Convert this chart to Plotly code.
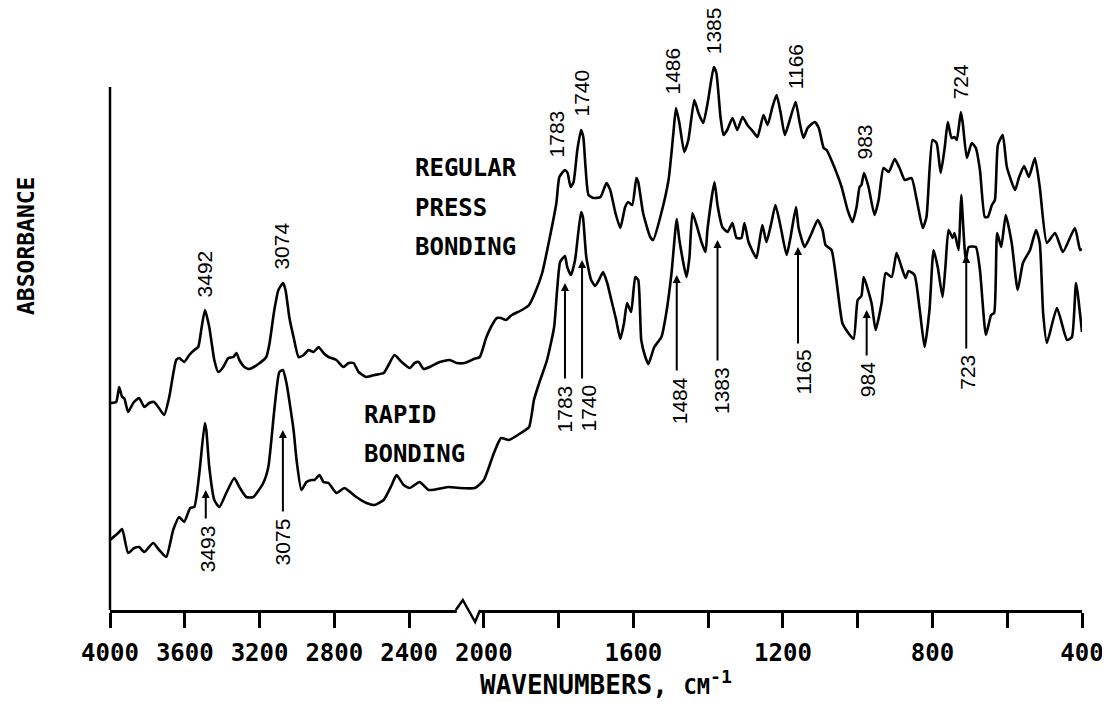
import plotly.graph_objects as go

# REGULAR PRESS BONDING (upper spectrum), wavenumber in cm-1 / absorbance (arbitrary units)
regular_wn = [4000, 3967, 3951, 3935, 3924, 3903, 3876, 3844, 3817, 3790, 3764, 3742, 3710, 3683,
              3646, 3630, 3603, 3576, 3549, 3528, 3512, 3492, 3469, 3442, 3421, 3394, 3367, 3340,
              3324, 3308, 3281, 3255, 3206, 3164, 3148, 3121, 3099, 3074, 3061, 3040, 3018, 2991,
              2964, 2938, 2911, 2884, 2858, 2831, 2789, 2751, 2724, 2697, 2670, 2628, 2585, 2536,
              2510, 2478, 2440, 2397, 2370, 2349, 2322, 2279, 2236, 2183, 2145, 2103, 2054, 2022,
              1994, 1978, 1965, 1954, 1941, 1925, 1898, 1879, 1860, 1844, 1825, 1806, 1798, 1783,
              1776, 1768, 1760, 1750, 1740, 1734, 1728, 1720, 1706, 1688, 1672, 1662, 1648, 1635,
              1622, 1614, 1603, 1592, 1587, 1574, 1555, 1547, 1528, 1506, 1493, 1486, 1477, 1464,
              1453, 1437, 1426, 1413, 1400, 1385, 1378, 1367, 1359, 1349, 1335, 1322, 1308, 1295,
              1279, 1268, 1252, 1241, 1228, 1217, 1206, 1195, 1184, 1166, 1155, 1145, 1134, 1115,
              1104, 1091, 1083, 1067, 1043, 1027, 1014, 1003, 995, 990, 983, 971, 955, 944, 931,
              917, 901, 888, 874, 856, 842, 826, 816, 800, 789, 778, 767, 759, 749, 741, 735, 724,
              719, 708, 695, 684, 673, 660, 652, 641, 633, 625, 612, 601, 579, 569, 555, 542, 526,
              513, 494, 472, 451, 419, 405, 400]
regular_abs = [209, 210, 225, 215, 214, 200, 209, 214, 205, 209, 210, 205, 197, 215,
               252, 254, 250, 257, 262, 265, 282, 302, 285, 252, 240, 245, 254, 255,
               259, 252, 245, 243, 248, 255, 267, 302, 322, 329, 322, 294, 275, 255,
               257, 262, 260, 265, 259, 255, 252, 245, 249, 249, 240, 235, 237, 239,
               247, 257, 250, 244, 249, 250, 243, 246, 250, 252, 249, 249, 253, 255,
               274, 287, 294, 294, 292, 297, 302, 307, 322, 339, 372, 409, 435, 442,
               439, 425, 430, 462, 482, 475, 445, 417, 414, 415, 429, 422, 399, 384,
               405, 410, 407, 434, 430, 399, 375, 372, 395, 432, 479, 504, 489, 460,
               472, 512, 499, 489, 512, 545, 539, 495, 477, 482, 494, 482, 495, 487,
               480, 475, 497, 487, 505, 517, 499, 477, 489, 510, 489, 474, 484, 490,
               484, 464, 462, 449, 425, 402, 390, 405, 425, 427, 439, 425, 397, 412, 444,
               440, 453, 444, 432, 434, 412, 384, 395, 472, 469, 439, 465, 490, 474, 475, 472, 500,
               489, 454, 469, 464, 442, 395, 395, 407, 412, 467, 477, 445, 422, 434, 446, 435, 454,
               425, 369, 379, 360, 384, 362, 363]

# RAPID BONDING (lower spectrum)
rapid_wn = [4000, 3956, 3935, 3903, 3871, 3844, 3817, 3769, 3737, 3699, 3662, 3630, 3603, 3571,
            3549, 3522, 3493, 3485, 3469, 3442, 3415, 3378, 3335, 3308, 3271, 3233, 3180, 3153,
            3121, 3094, 3075, 3056, 3018, 3002, 2976, 2949, 2922, 2906, 2879, 2858, 2831, 2789,
            2746, 2709, 2682, 2628, 2585, 2536, 2493, 2467, 2429, 2397, 2343, 2295, 2188, 2134,
            2048, 2000, 1973, 1954, 1933, 1901, 1879, 1866, 1852, 1831, 1812, 1804, 1796, 1783,
            1777, 1767, 1756, 1740, 1735, 1726, 1713, 1702, 1692, 1681, 1670, 1659, 1646, 1635,
            1625, 1617, 1606, 1595, 1587, 1579, 1568, 1560, 1544, 1525, 1512, 1498, 1484, 1477,
            1458, 1450, 1442, 1431, 1418, 1407, 1402, 1383, 1375, 1362, 1348, 1335, 1324, 1311,
            1303, 1292, 1271, 1263, 1255, 1244, 1231, 1220, 1206, 1190, 1180, 1165, 1158, 1142,
            1123, 1107, 1094, 1086, 1070, 1057, 1041, 1027, 1011, 1000, 990, 984, 963, 952, 936,
            925, 909, 896, 882, 872, 864, 848, 834, 821, 808, 797, 786, 773, 765, 757, 746, 741,
            730, 726, 723, 711, 703, 684, 673, 657, 643, 635, 627, 616, 604, 588, 572, 558, 539,
            523, 513, 504, 494, 467, 440, 427, 416, 400]
rapid_abs = [72, 79, 83, 59, 64, 65, 60, 69, 62, 55, 82, 95, 90, 104,
             105, 139, 189, 182, 145, 112, 105, 119, 134, 125, 115, 115, 129, 145,
             202, 240, 242, 229, 182, 152, 122, 130, 132, 132, 137, 130, 129, 119,
             124, 119, 115, 109, 107, 112, 127, 137, 127, 124, 130, 122, 125, 124,
             124, 132, 159, 174, 172, 179, 185, 212, 229, 252, 285, 322, 350, 356,
             345, 337, 352, 400, 395, 355, 332, 326, 332, 340, 329, 312, 292, 273,
             289, 309, 300, 335, 332, 272, 255, 248, 265, 275, 299, 339, 393, 372,
             335, 355, 399, 387, 370, 360, 382, 430, 407, 385, 380, 389, 374, 374,
             389, 370, 354, 370, 387, 370, 389, 407, 385, 357, 374, 405, 384, 365,
             379, 392, 382, 367, 362, 332, 289, 280, 273, 312, 316, 335, 309, 282, 309,
             339, 335, 359, 344, 334, 341, 337, 302, 265, 302, 362, 345, 315, 347, 382, 374, 379,
             362, 392, 417, 352, 365, 365, 342, 277, 297, 299, 379, 365, 397, 369, 322, 349, 362,
             382, 369, 299, 269, 304, 272, 275, 329, 280]

regular_peaks = [3492, 3074, 1783, 1740, 1486, 1385, 1166, 983, 724]
rapid_peaks = [3493, 3075, 1783, 1740, 1484, 1383, 1165, 984, 723]

tick_wn = [4000, 3600, 3200, 2800, 2400, 2000, 1800, 1600, 1400, 1200, 1000, 800, 600, 400]
tick_text = ['4000', '3600', '3200', '2800', '2400', '2000', ' ', '1600', ' ', '1200', ' ', '800', ' ', '400']


def pos(w):
    # chart paper: 4000-2000 at half scale, 2000-400 at full scale
    return (4000 - w) / 2 if w >= 2000 else 1000 + (2000 - w)


BLACK = 'black'
mono = dict(family='DejaVu Sans Mono', size=24, color=BLACK, weight='bold')
peakfont = dict(family='Liberation Sans, Arial', size=21, color=BLACK)

fig = go.Figure()
fig.add_scatter(x=[pos(w) for w in regular_wn], y=regular_abs, mode='lines',
                line=dict(color=BLACK, width=2.6, shape='spline', smoothing=0.5),
                name='Regular press bonding', showlegend=False)
fig.add_scatter(x=[pos(w) for w in rapid_wn], y=rapid_abs, mode='lines',
                line=dict(color=BLACK, width=2.6, shape='spline', smoothing=0.5),
                name='Rapid bonding', showlegend=False)

ann = []

# labels above the upper peaks
upper_dx = [0, -2, -8, 0, -4, 0, 0, 0, 0]
for w, dx in zip(regular_peaks, upper_dx):
    top = regular_abs[regular_wn.index(w)]
    ann.append(dict(x=pos(w), y=top + 11, text=str(w), textangle=-90, showarrow=False,
                    xanchor='center', yanchor='bottom', xshift=dx, font=peakfont))

# arrows + labels below the lower peaks
tip_y = [122, 182, 329, 352, 337, 372, 365, 302, 357]
tail_y = [92, 99, 232, 232, 240, 250, 267, 255, 262]
arrow_dx = [1, 0, 0, 1, 0, 3, 2, 3, 5]
label_dx = [3, 0, 0, 7, 3, 7, 7, 4, 6]
for w, ty, tl, adx, ldx in zip(rapid_peaks, tip_y, tail_y, arrow_dx, label_dx):
    ann.append(dict(x=pos(w), y=ty, ax=pos(w), ay=tl, axref='x', ayref='y', text='',
                    showarrow=True, arrowhead=2, arrowsize=0.8, arrowwidth=2,
                    arrowcolor=BLACK, xshift=adx))
    ann.append(dict(x=pos(w), y=tl - 3, text=str(w), textangle=-90, showarrow=False,
                    xanchor='center', yanchor='top', xshift=ldx, font=peakfont))

# curve names
for txt, y in [('REGULAR', 444), ('PRESS', 404), ('BONDING', 365)]:
    ann.append(dict(x=pos(2380), y=y, text=txt, showarrow=False, xanchor='left',
                    yanchor='middle', font=mono))
for txt, y in [('RAPID', 197), ('BONDING', 158)]:
    ann.append(dict(x=pos(2652), y=y, text=txt, showarrow=False, xanchor='left',
                    yanchor='middle', font=mono))

# axis titles
ann.append(dict(xref='paper', yref='y', x=0, xshift=-84, y=366, text='ABSORBANCE',
                textangle=-90, showarrow=False, xanchor='center', yanchor='middle',
                font=dict(family='DejaVu Sans Mono', size=23, color=BLACK, weight='bold')))
ann.append(dict(xref='paper', yref='paper', x=0.51, y=0, yshift=-73,
                text="WAVENUMBERS, <span style='font-size:22px'>CM</span><sup>-1</sup>",
                showarrow=False, xanchor='center', yanchor='middle',
                font=dict(family='DejaVu Sans Mono', size=26, color=BLACK, weight='bold')))

# plot geometry in paper units (plot area 972 x 600 px); the page adds an 8px body margin
PW, PH = 972.0, 600.0
y_top = (525 - 2) / PH
xb0 = pos(2150) / 2600
xb1 = pos(2020) / 2600
shapes = [
    dict(type='line', xref='paper', yref='paper', x0=0, x1=0, y0=0, y1=y_top,
         line=dict(color=BLACK, width=2.5)),
    # axis break
    dict(type='rect', xref='paper', yref='paper', x0=xb0 + 1 / PW, x1=xb1 - 1 / PW,
         y0=-4 / PH, y1=4 / PH, fillcolor='white', line=dict(width=0), layer='above'),
    dict(type='path', xref='paper', yref='paper', layer='above',
         path=f'M {xb0},0 L {xb0 + 7 / PW},{10 / PH} L {xb1 - 5 / PW},{-12 / PH} L {xb1},0',
         line=dict(color=BLACK, width=2.5)),
]

fig.update_layout(
    width=1110, height=714,
    margin=dict(l=102, r=36, t=2, b=112),
    paper_bgcolor='white', plot_bgcolor='white',
    xaxis=dict(range=[0, 2600], tickvals=[pos(w) for w in tick_wn], ticktext=tick_text,
               showline=True, linecolor=BLACK, linewidth=2.5, ticks='outside', ticklen=15,
               tickwidth=2.5, tickcolor=BLACK, showgrid=False, zeroline=False,
               tickfont=mono, ticklabelstandoff=4),
    yaxis=dict(range=[2, 602], showline=False, showgrid=False, zeroline=False,
               showticklabels=False, ticks=''),
    annotations=ann,
    shapes=shapes,
)

fig.write_html("out.html")
